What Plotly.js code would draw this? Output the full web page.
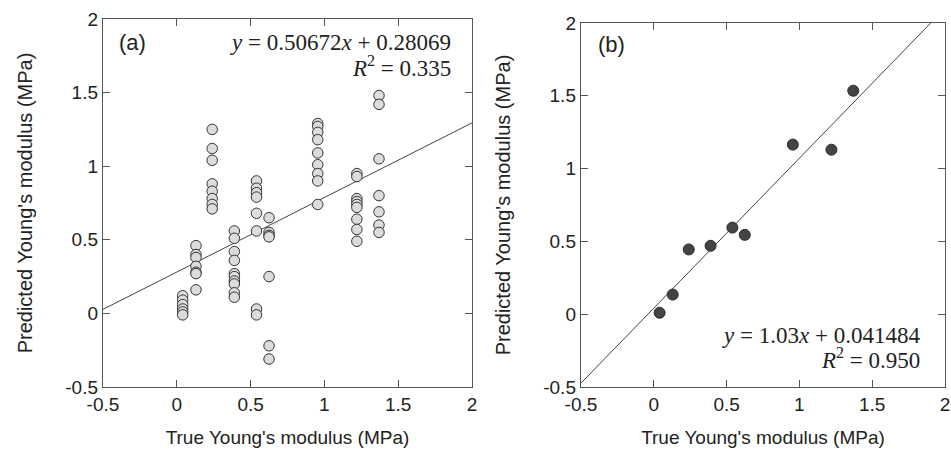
<!DOCTYPE html>
<html>
<head>
<meta charset="utf-8">
<script src="https://cdn.plot.ly/plotly-3.0.1.min.js"></script>
<style>html,body{margin:0;padding:0;background:#fff;}#chart{width:951px;height:452px;}</style>
</head>
<body>
<div id="chart"></div>
<script>
// True Young's modulus of each sample group (MPa)
const trueModulus = [0.04, 0.13, 0.24, 0.39, 0.54, 0.625, 0.955, 1.22, 1.37];

// (a) individual predictions for each group
const predA_g1 = [0.12, 0.09, 0.06, 0.03, 0.01, -0.01];
const predA_g2 = [0.46, 0.40, 0.38, 0.32, 0.28, 0.27, 0.16];
const predA_g3 = [1.25, 1.12, 1.04, 0.88, 0.83, 0.78, 0.74, 0.71];
const predA_g4 = [0.56, 0.51, 0.42, 0.36, 0.27, 0.25, 0.22, 0.20, 0.14, 0.11];
const predA_g5 = [0.90, 0.85, 0.82, 0.79, 0.68, 0.56, 0.03, -0.01];
const predA_g6 = [0.65, 0.55, 0.53, 0.52, 0.25, -0.22, -0.31];
const predA_g7 = [1.29, 1.27, 1.23, 1.18, 1.09, 1.01, 0.95, 0.90, 0.74];
const predA_g8 = [0.95, 0.93, 0.78, 0.76, 0.74, 0.72, 0.64, 0.57, 0.49];
const predA_g9 = [1.48, 1.42, 1.05, 0.80, 0.69, 0.60, 0.55];
const predA = [predA_g1, predA_g2, predA_g3, predA_g4, predA_g5, predA_g6, predA_g7, predA_g8, predA_g9];

// (b) averaged prediction for each group
const predB = [0.01, 0.135, 0.445, 0.47, 0.595, 0.545, 1.165, 1.13, 1.535];

// Fitted lines as stated on the chart
const fitA = {slope: 0.50672, intercept: 0.28069, label: '<i>y</i> = 0.50672<i>x</i> + 0.28069', r2: '<i>R</i><sup>2</sup> = 0.335'};
const fitB = {slope: 1.03, intercept: 0.041484, label: '<i>y</i> = 1.03<i>x</i> + 0.041484', r2: '<i>R</i><sup>2</sup> = 0.950'};

const axisRange = [-0.5, 2];
const tickVals = [-0.5, 0, 0.5, 1, 1.5, 2];
const tickText = ['-0.5', '0', '0.5', '1', '1.5', '2'];
const xTitle = "True Young's modulus (MPa)";
const yTitle = "Predicted Young's modulus (MPa)";

// build scatter coordinates
const xA = [], yA = [];
predA.forEach((col, i) => col.forEach(v => { xA.push(trueModulus[i]); yA.push(v); }));

function fitLine(fit) {
  const x0 = axisRange[0], x1 = axisRange[1];
  let y0 = fit.slope * x0 + fit.intercept;
  let y1 = fit.slope * x1 + fit.intercept;
  let xe = x1;
  if (y1 > axisRange[1]) { xe = (axisRange[1] - fit.intercept) / fit.slope; y1 = axisRange[1]; }
  return {x: [x0, xe], y: [y0, y1]};
}
const lA = fitLine(fitA), lB = fitLine(fitB);

const traces = [
  {x: lA.x, y: lA.y, xaxis: 'x', yaxis: 'y', mode: 'lines', line: {color: '#444', width: 1}, hoverinfo: 'skip'},
  {x: xA, y: yA, xaxis: 'x', yaxis: 'y', mode: 'markers', type: 'scatter',
   marker: {size: 10.5, color: '#dcdcdc', line: {color: '#333', width: 1}}},
  {x: lB.x, y: lB.y, xaxis: 'x2', yaxis: 'y2', mode: 'lines', line: {color: '#444', width: 1}, hoverinfo: 'skip'},
  {x: trueModulus, y: predB, xaxis: 'x2', yaxis: 'y2', mode: 'markers', type: 'scatter',
   marker: {size: 11, color: '#444444', line: {color: '#2a2a2a', width: 1}}}
];

const tickFont = {family: 'Liberation Sans, Arial, sans-serif', size: 19, color: '#222'};
const xTitleFont = {family: 'Liberation Sans, Arial, sans-serif', size: 19, color: '#222'};
const yTitleFont = {family: 'Liberation Sans, Arial, sans-serif', size: 20, color: '#222'};

function xAxis(domain, anchor) {
  return {domain: domain, anchor: anchor, range: axisRange, tickvals: tickVals, ticktext: tickText,
    ticks: 'inside', ticklen: 7, tickcolor: '#555', showline: true, linecolor: '#555', linewidth: 1.2,
    mirror: 'ticks', showgrid: false, zeroline: false, tickfont: tickFont, automargin: false,
    title: {text: xTitle, font: xTitleFont, standoff: 16}};
}
function yAxis(domain, anchor) {
  return {domain: domain, anchor: anchor, range: axisRange, tickvals: tickVals, ticktext: tickText,
    ticks: 'inside', ticklen: 7, tickcolor: '#555', showline: true, linecolor: '#555', linewidth: 1.2,
    mirror: 'ticks', showgrid: false, zeroline: false, tickfont: tickFont, automargin: false,
    title: {text: yTitle, font: yTitleFont, standoff: 27}};
}

const eqFont = {family: 'Liberation Serif, Times New Roman, serif', size: 23, color: '#222'};
const labFont = {family: 'Liberation Sans, Arial, sans-serif', size: 22, color: '#222'};

const layout = {
  width: 951, height: 452, margin: {l: 0, r: 0, t: 0, b: 0},
  paper_bgcolor: '#fff', plot_bgcolor: '#fff', showlegend: false,
  xaxis: xAxis([0.1083, 0.4963], 'y'),
  yaxis: yAxis([0.1438, 0.958], 'x'),
  xaxis2: xAxis([0.6109, 0.9937], 'y2'),
  yaxis2: yAxis([0.1438, 0.949], 'x2'),
  annotations: [
    {xref: 'x domain', yref: 'y domain', x: 0.079, y: 0.935, text: '(a)', showarrow: false, font: labFont, xanchor: 'center', yanchor: 'middle'},
    {xref: 'x domain', yref: 'y domain', x: 0.948, y: 0.937, text: fitA.label, showarrow: false, font: eqFont, xanchor: 'right', yanchor: 'middle'},
    {xref: 'x domain', yref: 'y domain', x: 0.948, y: 0.872, text: fitA.r2, showarrow: false, font: eqFont, xanchor: 'right', yanchor: 'middle'},
    {xref: 'x2 domain', yref: 'y2 domain', x: 0.085, y: 0.942, text: '(b)', showarrow: false, font: labFont, xanchor: 'center', yanchor: 'middle'},
    {xref: 'x2 domain', yref: 'y2 domain', x: 0.937, y: 0.142, text: fitB.label, showarrow: false, font: eqFont, xanchor: 'right', yanchor: 'middle'},
    {xref: 'x2 domain', yref: 'y2 domain', x: 0.937, y: 0.078, text: fitB.r2, showarrow: false, font: eqFont, xanchor: 'right', yanchor: 'middle'}
  ]
};

Plotly.newPlot('chart', traces, layout, {displayModeBar: false, staticPlot: true});
</script>
</body>
</html>
